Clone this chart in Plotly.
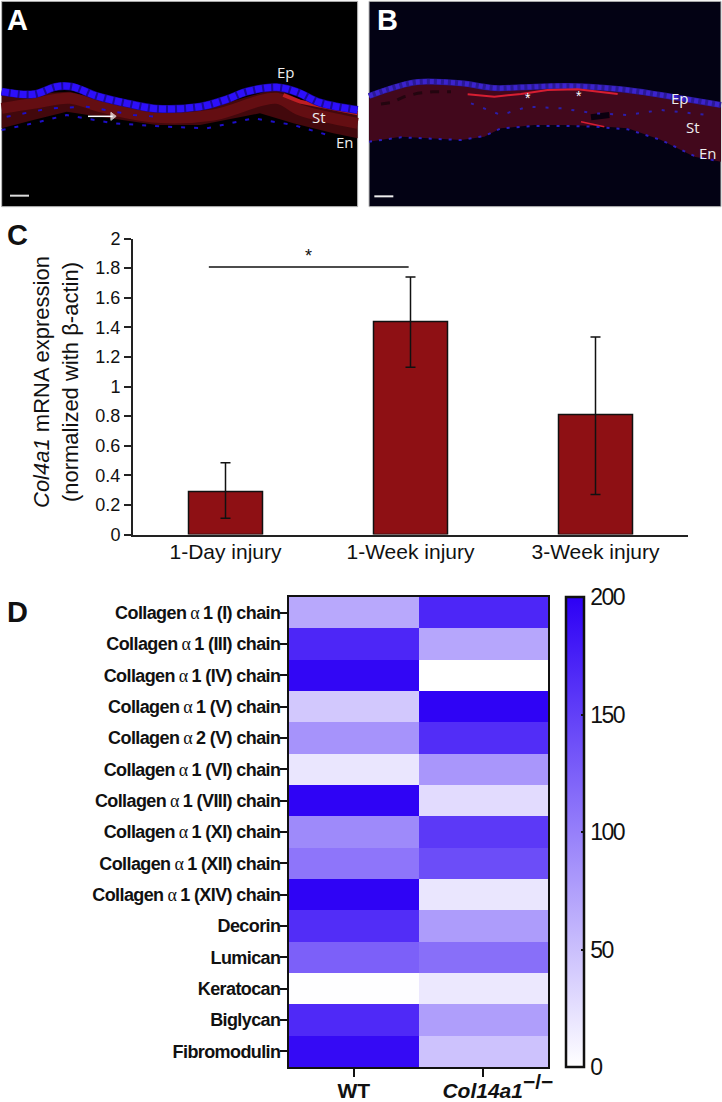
import plotly.graph_objects as go

W, H = 722, 1102
SANS = "Liberation Sans"

# Panel C
conditions = ["1-Day injury", "1-Week injury", "3-Week injury"]
expression = [0.29, 1.44, 0.81]
err_up = [0.195, 0.30, 0.525]
err_down = [0.18, 0.31, 0.54]
sig_x = [-0.09, 0.99]
sig_y = [1.807, 1.807]

# Panel D
proteins = [
    "Collagen A 1 (I) chain", "Collagen A 1 (III) chain", "Collagen A 1 (IV) chain",
    "Collagen A 1 (V) chain", "Collagen A 2 (V) chain", "Collagen A 1 (VI) chain",
    "Collagen A 1 (VIII) chain", "Collagen A 1 (XI) chain", "Collagen A 1 (XII) chain",
    "Collagen A 1 (XIV) chain", "Decorin", "Lumican", "Keratocan", "Biglycan", "Fibromodulin",
]
genotypes = ["WT", "KO"]
wt_values = [68, 170, 195, 43, 85, 20, 198, 92, 108, 198, 165, 125, 1, 168, 192]
ko_values = [170, 70, 0, 198, 165, 82, 28, 155, 140, 20, 78, 113, 18, 76, 48]
bar_ticks = [0, 50, 100, 150, 200]

# Panels A and B: traced outlines of the micrographs, in panel units
a_stroma_x = [5, 100, 210, 300, 470, 640, 830, 900, 1073, 1073, 1000, 880, 780, 600, 470, 300, 200, 100, 5]
a_stroma_y = [285, 280, 275, 300, 340, 320, 265, 300, 340, 415, 400, 370, 340, 375, 375, 350, 335, 360, 385]
a_core_x = [5, 100, 210, 300, 470, 640, 830, 900, 1073]
a_core_y = [325, 310, 295, 320, 352, 345, 295, 330, 370]
a_epi_x = [5, 100, 170, 215, 290, 380, 470, 600, 680, 740, 830, 890, 960, 1073]
a_epi_y = [275, 283, 260, 260, 288, 310, 326, 320, 298, 275, 262, 276, 308, 330]
a_nuc_x = [5, 100, 200, 340, 500, 620, 760, 880, 1000]
a_nuc_y = [390, 370, 345, 370, 380, 385, 355, 375, 410]
a_mid_x = [20, 150, 260, 400, 470]
a_mid_y = [350, 325, 320, 345, 350]
a_bright_x = [850, 900, 1000, 1073]
a_bright_y = [285, 305, 325, 340]

b_stroma_x = [24, 100, 170, 300, 400, 480, 620, 780, 900, 1080, 1080, 1000, 900, 800, 700, 620, 520, 420, 370, 300, 120, 24]
b_stroma_y = [290, 268, 250, 255, 270, 270, 265, 275, 292, 320, 485, 470, 420, 385, 378, 375, 375, 385, 410, 420, 410, 425]
b_epi_x = [24, 100, 170, 300, 400, 480, 620, 780, 900, 1080]
b_epi_y = [288, 262, 246, 250, 264, 262, 258, 268, 285, 315]
b_red_x = [320, 400, 480, 560, 650, 770]
b_red_y = [283, 290, 282, 270, 268, 282]
b_red2_x = [660, 730]
b_red2_y = [365, 380]
b_nuc_x = [24, 120, 300, 370, 420, 520, 620, 700, 800, 900, 1000, 1078]
b_nuc_y = [425, 412, 420, 408, 385, 378, 378, 380, 388, 420, 468, 485]
b_mid_x = [330, 420, 500, 600, 700, 800, 900, 1040]
b_mid_y = [310, 345, 320, 325, 340, 345, 330, 345]
b_hole_x = [690, 745]
b_hole_y = [352, 345]
b_hole2_x = [60, 90, 130, 170, 215, 270]
b_hole2_y = [312, 308, 290, 280, 275, 275]
a_arrow_x = [264, 338]
a_arrow_y = [349, 349]

a_labels = [("Ep", 858, 216), ("St", 957, 352), ("En", 1036, 427)]
b_labels = [("Ep", 956, 294), ("St", 995, 380), ("En", 1042, 460)]
b_stars = [("*", 500, 294), ("*", 653, 288)]


def px(v):
    return v / W


def py(v):
    return 1 - v / H


fig = go.Figure()


def poly(x, y, xa, ya, **kw):
    fig.add_trace(go.Scatter(x=x, y=y, xaxis=xa, yaxis=ya, mode="lines", hoverinfo="skip", **kw))


# Panel A
poly(a_stroma_x, a_stroma_y, "x3", "y3", fill="toself", fillcolor="rgb(66,8,12)", line=dict(width=0))
poly(a_core_x, a_core_y, "x3", "y3", line=dict(color="rgb(100,14,18)", width=11, shape="spline"))
poly(a_bright_x, a_bright_y, "x3", "y3", line=dict(color="rgb(190,30,35)", width=4))
poly(a_epi_x, a_epi_y, "x3", "y3", line=dict(color="rgb(25,8,150)", width=8, shape="spline"))
poly(a_epi_x, a_epi_y, "x3", "y3", line=dict(color="rgb(45,15,250)", width=7, shape="spline", dash="7px,2px"))
poly(a_nuc_x, a_nuc_y, "x3", "y3", line=dict(color="rgb(30,15,200)", width=2, dash="4px,9px"))
poly(a_mid_x, a_mid_y, "x3", "y3", line=dict(color="rgb(30,15,200)", width=2, dash="4px,12px"))

# Panel B
poly(b_stroma_x, b_stroma_y, "x4", "y4", fill="toself", fillcolor="rgb(66,8,28)", line=dict(width=0))
poly(b_hole2_x, b_hole2_y, "x4", "y4", line=dict(color="rgb(35,5,15)", width=3, dash="9px,8px"))
poly(b_hole_x, b_hole_y, "x4", "y4", line=dict(color="rgb(10,0,15)", width=6))
poly(b_epi_x, b_epi_y, "x4", "y4", line=dict(color="rgb(42,25,150)", width=6, shape="spline"))
poly(b_epi_x, b_epi_y, "x4", "y4", line=dict(color="rgb(60,35,205)", width=5, shape="spline", dash="4px,3px"))
poly(b_red_x, b_red_y, "x4", "y4", line=dict(color="rgb(215,30,50)", width=2))
poly(b_red2_x, b_red2_y, "x4", "y4", line=dict(color="rgb(215,30,50)", width=1.5))
poly(b_nuc_x, b_nuc_y, "x4", "y4", line=dict(color="rgb(45,30,190)", width=2, dash="3px,7px"))
poly(b_mid_x, b_mid_y, "x4", "y4", line=dict(color="rgb(45,30,170)", width=2, dash="3px,10px"))
fig.add_trace(go.Scatter(x=a_arrow_x, y=a_arrow_y, xaxis="x3", yaxis="y3", mode="lines+markers",
                         line=dict(color="white", width=1.5), hoverinfo="skip",
                         marker=dict(symbol=["line-ns", "triangle-right"], size=[0, 7], color="white")))

# Panel C
fig.add_trace(go.Bar(
    x=conditions, y=expression, width=0.4, xaxis="x", yaxis="y",
    marker=dict(color="#8E1014", line=dict(color="#111", width=1.5)),
    error_y=dict(type="data", symmetric=False, array=err_up, arrayminus=err_down,
                 color="#111", thickness=1.5, width=5),
))
fig.add_trace(go.Scatter(x=sig_x, y=sig_y, xaxis="x5", yaxis="y", mode="lines",
                         line=dict(color="#111", width=1.5), hoverinfo="skip"))

# Panel D
ALPHA = "<span style='font-family:Liberation Serif;font-weight:normal'>\u00a0α\u00a0</span>"
labels_d = [p.replace(" A ", ALPHA) for p in proteins]
NARROW = "<span style='letter-spacing:-0.6px'><b>%s</b></span>"
cb_common = dict(x=px(566), xanchor="left", xpad=0, ypad=0, thicknessmode="pixels",
                 y=py(1067), yanchor="bottom", len=470 / H, lenmode="fraction")
fig.add_trace(go.Heatmap(
    z=[[w, k] for w, k in zip(wt_values, ko_values)],
    x=genotypes, y=labels_d, xaxis="x2", yaxis="y2", zmin=0, zmax=200,
    colorscale=[[0, "white"], [1, "rgb(45,0,245)"]], xgap=0, ygap=0,
    colorbar=dict(
        thickness=18, outlinecolor="#111", outlinewidth=2.5,
        tickvals=bar_ticks, ticktext=["<span style='letter-spacing:-1.6px'>%d</span>" % t for t in bar_ticks],
        ticks="inside", ticklen=4, tickwidth=2, tickcolor="#111",
        tickfont=dict(family=SANS, size=23, color="#111"), **cb_common),
))
# Left-edge tick marks of the colour bar: a transparent, hairline colour bar on the same scale
fig.add_trace(go.Heatmap(
    z=[[None, None]], x=genotypes, y=labels_d[:1], xaxis="x2", yaxis="y2", zmin=0, zmax=200, hoverinfo="skip",
    colorscale=[[0, "rgba(0,0,0,0)"], [1, "rgba(0,0,0,0)"]],
    colorbar=dict(thickness=1, outlinewidth=0, tickvals=bar_ticks[1:-1], showticklabels=False,
                  ticks="outside", ticklen=4, tickwidth=2, tickcolor="#111", **cb_common),
))

blank = dict(visible=False, showgrid=False, zeroline=False, fixedrange=True)
fig.update_layout(
    width=W, height=H, margin=dict(l=0, r=0, t=0, b=0, autoexpand=False),
    paper_bgcolor="white", plot_bgcolor="white", showlegend=False,
    font=dict(family=SANS, color="#111"),
    xaxis=dict(domain=[px(133), px(688)], range=[-0.5, 2.5], type="category", anchor="y",
               showline=True, linecolor="#222", linewidth=2, ticks="", showgrid=False, ticklabelstandoff=-3,
               tickfont=dict(size=21, color="#111")),
    yaxis=dict(domain=[py(534.5), py(238.5)], range=[0, 2], anchor="x",
               tickvals=[0, .2, .4, .6, .8, 1, 1.2, 1.4, 1.6, 1.8, 2],
               ticktext=["0", "0.2", "0.4", "0.6", "0.8", "1", "1.2", "1.4", "1.6", "1.8", "2"],
               showline=True, linecolor="#222", linewidth=2, ticks="outside", ticklen=7, tickwidth=2,
               tickcolor="#222", showgrid=False, zeroline=False, tickfont=dict(size=18, color="#111")),
    xaxis5=dict(domain=[px(133), px(688)], range=[-0.5, 2.5], anchor="y", overlaying="x", **blank),
    xaxis2=dict(domain=[px(289), px(548)], anchor="y2", showline=True, mirror=True, linecolor="#111", linewidth=2,
                tickvals=genotypes, ticklabelstandoff=-4,
                ticktext=["<b>WT</b>",
                          "<b>\u00a0\u00a0\u00a0\u00a0\u00a0<i>Col14a1</i><sup><span style='font-size:21px'>−/−</span></sup></b>"],
                ticks="outside", ticklen=8, tickwidth=1.5, tickcolor="#111",
                tickfont=dict(family=SANS, size=21, color="#111")),
    yaxis2=dict(domain=[py(1067), py(597)], anchor="x2", autorange="reversed", showline=True, mirror=True,
                linecolor="#111", linewidth=2, ticks="outside", ticklen=7, tickwidth=1.5, tickcolor="#111",
                tickmode="array", tickvals=labels_d, ticktext=[NARROW % l for l in labels_d],
                ticklabelstandoff=-4, tickfont=dict(family=SANS, size=18, color="#111")),
    xaxis3=dict(domain=[0, 361 / W], range=[0, 1083], anchor="y3", **blank),
    yaxis3=dict(domain=[py(215), 1], range=[645, 0], anchor="x3", **blank),
    xaxis4=dict(domain=[361 / W, 1], range=[0, 1083], anchor="y4", **blank),
    yaxis4=dict(domain=[py(215), 1], range=[645, 0], anchor="x4", **blank),
)

fig.add_shape(type="rect", xref="x3", yref="y3", x0=5, x1=1073, y0=4, y1=620, layer="below",
              fillcolor="black", line=dict(color="#bbb", width=1))
fig.add_shape(type="rect", xref="x4", yref="y4", x0=24, x1=1080, y0=4, y1=620, layer="below",
              fillcolor="rgb(3,2,20)", line=dict(color="#bbb", width=1))
fig.add_shape(type="line", xref="x3", yref="y3", x0=30, x1=87, y0=587, y1=587, line=dict(color="#ddd", width=2))
fig.add_shape(type="line", xref="x4", yref="y4", x0=40, x1=97, y0=589, y1=589, line=dict(color="#eee", width=2))


def note(text, x, y, xref, yref, size, color, family=SANS, **kw):
    fig.add_annotation(text=text, x=x, y=y, xref=xref, yref=yref, showarrow=False, xanchor="center", yanchor="middle",
                       font=dict(family=family, size=size, color=color), **kw)


for t, x, y in a_labels:
    note(t, x, y, "x3", "y3", 15, "#eee", "Open Sans")
for t, x, y in b_labels:
    note(t, x, y, "x4", "y4", 15, "#eee", "Open Sans")
for t, x, y in b_stars:
    note(t, x, y, "x4", "y4", 14, "white")
note("<b>A</b>", 53, 60, "x3", "y3", 29, "white")
note("<b>B</b>", 80, 60, "x4", "y4", 29, "white")
note("<b>C</b>", px(17), py(235), "paper", "paper", 29, "#111")
note("<b>D</b>", px(17), py(612), "paper", "paper", 29, "#111")
note("*", 0.45, 1.885, "x5", "y", 18, "#111")
note("<i>Col4a1</i> mRNA expression<br>(normalized with β-actin)", px(56), py(382), "paper", "paper", 22, "#111",
     textangle=-90)

fig.write_html("out.html", post_script="document.body.style.margin='0';", config={"displayModeBar": False})
